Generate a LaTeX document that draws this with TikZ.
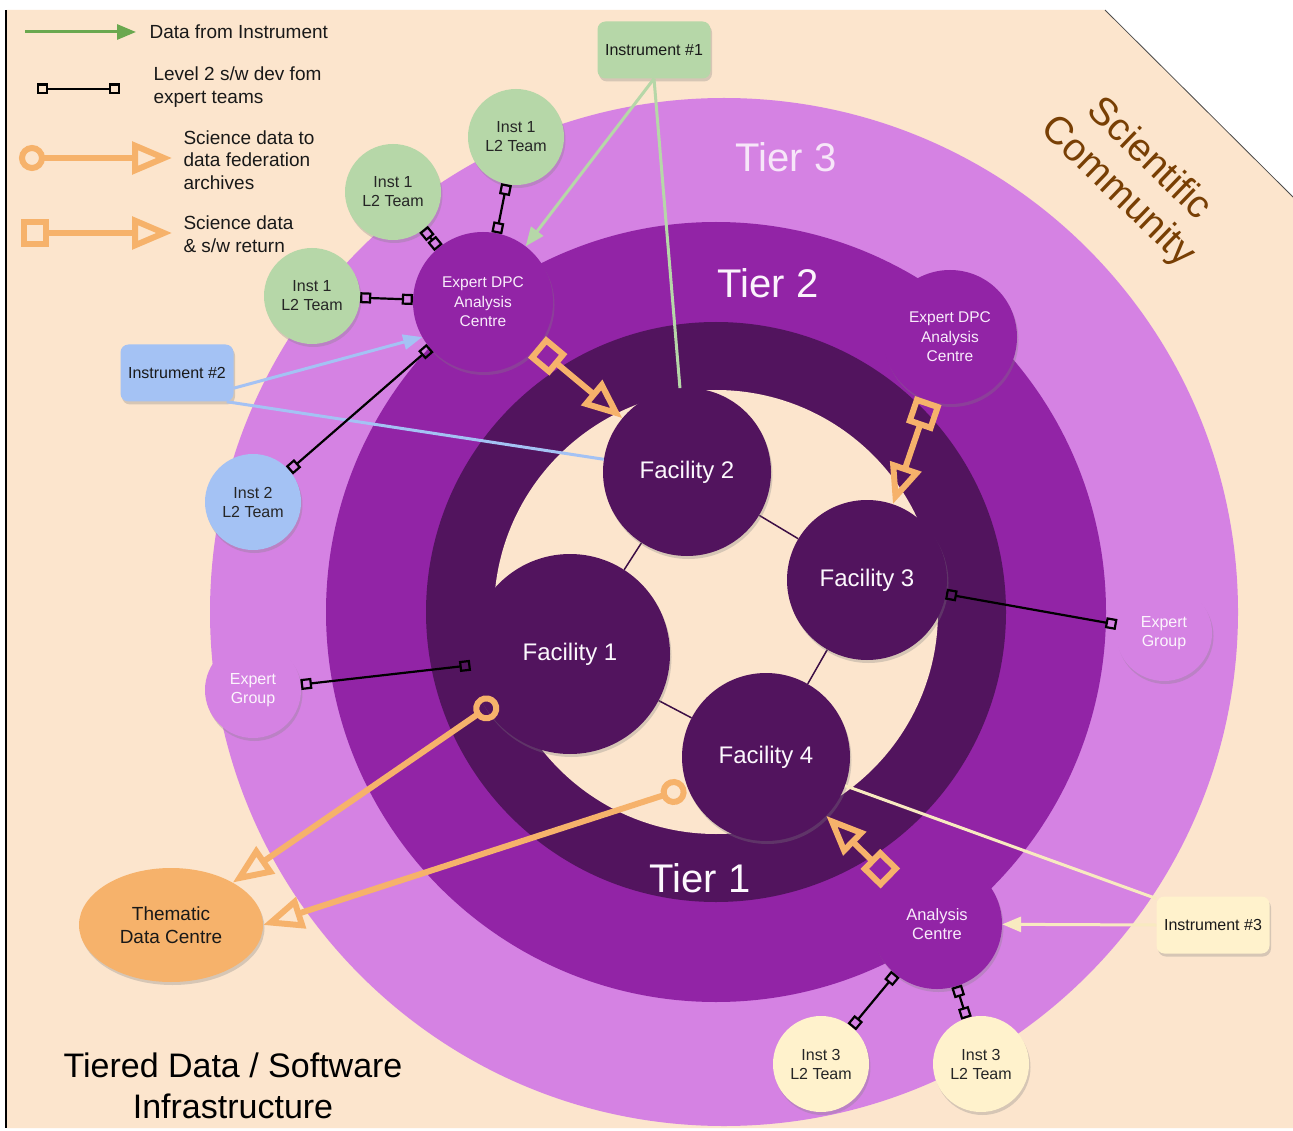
\documentclass[tikz,border=0pt]{standalone}
\usepackage{fontspec}
\setmainfont{Liberation Sans}
\usetikzlibrary{arrows.meta,shadows,shapes.geometric}

\definecolor{peach}{HTML}{FCE5CD}
\definecolor{tierthree}{HTML}{D582E3}
\definecolor{tiertwo}{HTML}{9224A6}
\definecolor{tierone}{HTML}{52145E}
\definecolor{instgreen}{HTML}{B6D7A8}
\definecolor{instblue}{HTML}{A4C2F4}
\definecolor{instcream}{HTML}{FFF2CC}
\definecolor{linecream}{HTML}{F8EAC0}
\definecolor{orangey}{HTML}{F6B26B}
\definecolor{legendgreen}{HTML}{6AA84F}
\definecolor{brownish}{HTML}{783F04}

\pgfdeclarelayer{rings}
\pgfdeclarelayer{links}
\pgfsetlayers{rings,links,main}

\begin{document}
\begin{tikzpicture}[x=1pt,y=-1pt]

	\tikzset{
		shadowed/.style={drop shadow={opacity=0.3,shadow xshift=1.5pt,shadow yshift=-3pt}},
		team/.style={circle,shadowed,minimum size=96pt,inner sep=0pt,align=center,
			text=black!85,font=\fontsize{16}{19}\selectfont},
		facility/.style={circle,shadowed,fill=tierone,inner sep=0pt,
			text=white!94!tierthree,font=\fontsize{24}{28}\selectfont},
		centre/.style={circle,shadowed,fill=tiertwo,inner sep=0pt,align=center,
			text=white!85!tierthree,font=\fontsize{15.5}{19.5}\selectfont},
		instbox/.style={rectangle,rounded corners=8pt,shadowed,minimum width=113pt,
			minimum height=57pt,text=black!90,font=\fontsize{16}{19}\selectfont},
		legendtext/.style={anchor=west,align=left,text=black!90,font=\fontsize{19}{22.5}\selectfont},
		tierlabel/.style={font=\fontsize{40}{44}\selectfont},
		datafeed/.style={line width=3pt,-{Triangle[length=19pt,width=15pt]}},
		l2link/.style={line width=2.2pt,{Square[open,length=11pt,width=11pt]}-{Square[open,length=11pt,width=11pt]}},
		sciarc/.style={draw=orangey,line width=6pt,{Circle[open,length=26pt]}-{Triangle[open,length=40pt,width=32pt]}},
		sciret/.style={draw=orangey,line width=6pt,{Square[open,length=28pt,width=28pt]}-{Triangle[open,length=40pt,width=32pt]}},
		faclink/.style={line width=1.5pt,draw=tierone!75!black}
	}

	\useasboundingbox (0,0) rectangle (1293,1131);

	% background and tiers
	\begin{pgfonlayer}{rings}
		\fill[white] (0,0) rectangle (1293,1131);
		\fill[peach] (7,10) -- (1105,10) -- (1293,197) -- (1293,1128) -- (7,1128) -- cycle;
		\draw[black!70,line width=0.8pt] (1105,10) -- (1293,197);
		\draw[black,line width=1.5pt] (6,10) -- (6,1128);
		\fill[tierthree] (724,612) circle[radius=514pt];
		\fill[tiertwo] (716,612) circle[radius=390pt];
		\fill[tierone] (716,612) circle[radius=290pt];
		\fill[peach] (716,612) circle[radius=222pt];
	\end{pgfonlayer}

	\node[tierlabel,text=white!80!tierthree] (t3) at (786,157) {Tier 3};
	\node[tierlabel,text=white!90!tierthree] (t2) at (768,283) {Tier 2};
	\node[tierlabel,text=white!94!tierthree] (t1) at (700,878) {Tier 1};

	\node[rotate=-44,align=center,text=brownish,font=\fontsize{39}{45}\selectfont] (scicom) at (1133,176) {Scientific\\Community};
	\node[align=center,text=black,font=\fontsize{34}{41}\selectfont] (title) at (233,1086) {Tiered Data / Software\\Infrastructure};

	% legend
	\coordinate (lgfeeda) at (25,32);
	\coordinate (lgfeedb) at (136,32);
	\coordinate (lgdeva) at (37,89);
	\coordinate (lgdevb) at (120,89);
	\coordinate (lgarca) at (19,158);
	\coordinate (lgarcb) at (172,158);
	\coordinate (lgreta) at (21,233);
	\coordinate (lgretb) at (172,233);
	\draw[datafeed,legendgreen] (lgfeeda) -- (lgfeedb);
	\draw[l2link] (lgdeva) -- (lgdevb);
	\draw[sciarc] (lgarca) -- (lgarcb);
	\draw[sciret] (lgreta) -- (lgretb);
	\node[legendtext] (lgfeed) at (146,32) {Data from Instrument};
	\node[legendtext] (lgdev) at (150,87) {Level 2 s/w dev fom\\expert teams};
	\node[legendtext] (lgarc) at (180,160) {Science data to\\data federation\\archives};
	\node[legendtext] (lgret) at (180,234) {Science data\\\& s/w return};

	% facilities
	\node[facility,minimum size=200pt] (fac1) at (570,654) {Facility 1};
	\node[facility,minimum size=168pt] (fac2) at (687,472) {Facility 2};
	\node[facility,minimum size=160pt] (fac3) at (867,580) {Facility 3};
	\node[facility,minimum size=168pt] (fac4) at (766,757) {Facility 4};
	\begin{pgfonlayer}{links}
		\draw[faclink] (fac1) -- (fac2);
		\draw[faclink] (fac2) -- (fac3);
		\draw[faclink] (fac3) -- (fac4);
		\draw[faclink] (fac4) -- (fac1);
	\end{pgfonlayer}

	% centres and teams
	\node[centre,minimum size=140pt] (dpc1) at (483,302) {Expert DPC\\Analysis\\Centre};
	\node[centre,minimum size=134pt] (dpc2) at (950,337) {Expert DPC\\Analysis\\Centre};
	\node[centre,minimum size=130pt,font=\fontsize{16.5}{19.5}\selectfont] (anc) at (937,924) {Analysis\\Centre};

	\node[team,fill=instgreen] (inst1a) at (516,137) {Inst 1\\L2 Team};
	\node[team,fill=instgreen] (inst1b) at (393,192) {Inst 1\\L2 Team};
	\node[team,fill=instgreen] (inst1c) at (312,296) {Inst 1\\L2 Team};
	\node[team,fill=instblue] (inst2t) at (253,502) {Inst 2\\L2 Team};
	\node[team,fill=tierthree,text=white!92!tierthree] (expl) at (253,690) {Expert\\Group};
	\node[team,fill=tierthree,text=white!92!tierthree] (expr) at (1164,633) {Expert\\Group};
	\node[team,fill=instcream] (inst3a) at (821,1064) {Inst 3\\L2 Team};
	\node[team,fill=instcream] (inst3b) at (981,1064) {Inst 3\\L2 Team};

	\node[ellipse,shadowed,fill=orangey,minimum width=184pt,minimum height=114pt,inner sep=0pt,
		align=center,text=black!90,font=\fontsize{19}{23}\selectfont] (thematic) at (171,925) {Thematic\\Data Centre};

	% instruments
	\node[instbox,fill=instgreen] (inst1) at (654,50) {Instrument \#1};
	\node[instbox,fill=instblue] (inst2) at (177,373) {Instrument \#2};
	\node[instbox,fill=instcream] (inst3) at (1213,925) {Instrument \#3};

	\draw[datafeed,instgreen] (inst1.south) -- (dpc1);
	\draw[line width=3pt,instgreen] (inst1.south) -- (fac2);
	\draw[datafeed,instblue] (inst2.-15) -- (dpc1.210);
	\draw[line width=3pt,instblue] (inst2.-30) -- (fac2);
	\draw[datafeed,linecream] (inst3.west) -- (anc);
	\draw[line width=3pt,linecream] (inst3.155) -- (fac4);

	% level 2 s/w links
	\draw[l2link] (inst1a) -- (dpc1);
	\draw[l2link] (inst1b) -- (dpc1);
	\draw[l2link] (inst1c) -- (dpc1);
	\draw[l2link] (inst2t) -- (dpc1);
	\draw[l2link] (expl) -- (fac1);
	\draw[l2link] (fac3) -- (expr);
	\draw[l2link] (anc) -- (inst3a);
	\draw[l2link] (anc) -- (inst3b);

	% science data flows
	\draw[sciret] (dpc1) -- (fac2);
	\draw[sciret] (dpc2) -- (fac3);
	\draw[sciret] (anc) -- (fac4);
	\coordinate (outfac1) at (497,701);
	\coordinate (outfac4) at (686,788);
	\draw[sciarc] (outfac1) -- (thematic);
	\draw[sciarc] (outfac4) -- (thematic.east);

\end{tikzpicture}
\end{document}
